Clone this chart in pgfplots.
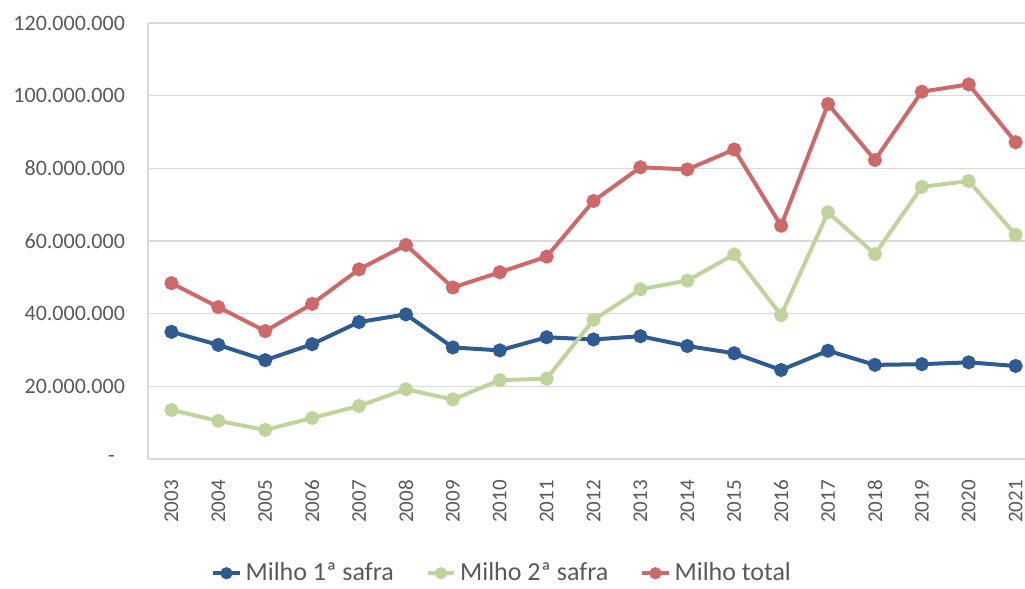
\documentclass[border=0pt]{standalone}
\usepackage{pgfplots}
\pgfplotsset{compat=1.18}
\usepackage{fontspec}
\setmainfont{Carlito}
\definecolor{milhoA}{HTML}{2E5B92}
\definecolor{milhoB}{HTML}{BFD49B}
\definecolor{milhoT}{HTML}{CD6A69}
\definecolor{ticktxt}{HTML}{595959}
\definecolor{gridc}{HTML}{D9D9D9}

\begin{document}
\begin{tikzpicture}
\begin{axis}[
    name=ax,
    scale only axis,
    width=438.5pt,
    height=218pt,
    xmin=-0.5, xmax=18.2,
    ymin=0, ymax=120,
    xtick={0,...,18},
    xticklabels={2003,2004,2005,2006,2007,2008,2009,2010,2011,2012,2013,2014,2015,2016,2017,2018,2019,2020,2021},
    ytick={0,20,40,60,80,100,120},
    yticklabels={-\hspace*{5pt},20.000.000,40.000.000,60.000.000,80.000.000,100.000.000,120.000.000},
    major tick length=0pt,
    ymajorgrids,
    grid style={draw=gridc, line width=0.6pt},
    axis x line*=bottom,
    axis y line*=left,
    axis line style={draw=gridc, line width=0.6pt, -},
    xticklabel style={yshift=-7pt, rotate=90, anchor=east, font=\fontsize{10.5}{12}\selectfont, text=ticktxt},
    yticklabel style={font=\fontsize{11}{13}\selectfont, text=ticktxt, xshift=-8pt},
    legend style={at={(0.405,-0.262)}, anchor=center, draw=none, fill=none,
        font=\fontsize{13}{15}\selectfont, text=ticktxt,
        /tikz/every even column/.append style={column sep=14pt}},
    legend columns=3,
    legend image code/.code={%
        \draw[mark repeat=2, mark phase=2, mark size=2pt]
            plot coordinates {(0cm,0cm) (0.23cm,0cm) (0.46cm,0cm)};},
    every axis plot/.append style={line width=2pt, mark=*, mark size=2.5pt},
]
\addplot[color=milhoA] coordinates {
 (0,35.0) (1,31.4) (2,27.2) (3,31.6) (4,37.7) (5,39.8) (6,30.7) (7,29.9) (8,33.5) (9,32.9)
 (10,33.8) (11,31.1) (12,29.1) (13,24.5) (14,29.8) (15,25.9) (16,26.1) (17,26.6) (18,25.6)
};
\addlegendentry{Milho 1ª safra}
\addplot[color=milhoB] coordinates {
 (0,13.5) (1,10.5) (2,8.0) (3,11.3) (4,14.6) (5,19.2) (6,16.4) (7,21.7) (8,22.1) (9,38.3)
 (10,46.7) (11,49.1) (12,56.3) (13,39.6) (14,67.9) (15,56.4) (16,74.9) (17,76.5) (18,61.7)
};
\addlegendentry{Milho 2ª safra}
\addplot[color=milhoT] coordinates {
 (0,48.4) (1,41.8) (2,35.2) (3,42.7) (4,52.2) (5,58.9) (6,47.2) (7,51.4) (8,55.7) (9,71.0)
 (10,80.3) (11,79.7) (12,85.2) (13,64.2) (14,97.7) (15,82.3) (16,101.1) (17,103.1) (18,87.2)
};
\addlegendentry{Milho total}
\end{axis}
\pgfresetboundingbox
\path[use as bounding box] ([xshift=-74pt,yshift=-64.5pt]ax.south west) rectangle ([yshift=11.5pt]ax.north east);
\end{tikzpicture}
\end{document}
